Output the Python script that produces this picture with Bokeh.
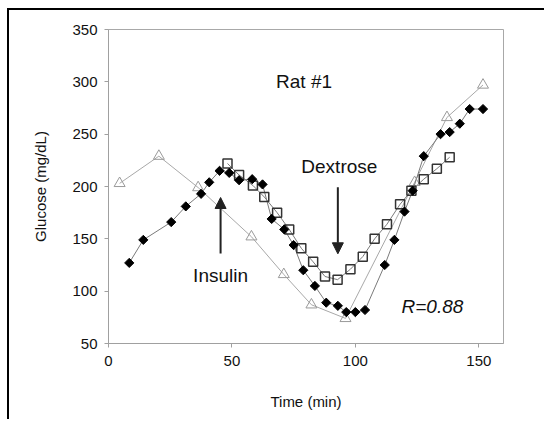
import math
from bokeh.plotting import figure
from bokeh.models import Range1d, FixedTicker, Arrow, NormalHead, Label
from bokeh.embed import file_html
from bokeh.resources import INLINE

# ---- data ----
diamond_time = [8.4, 14.1, 25.4, 31.3, 37.5, 40.8, 45.0, 48.9, 52.9, 58.2, 62.4, 66.1, 71.2, 75.0, 78.9,
                83.6, 88.2, 92.9, 96.3, 100.0, 103.9, 111.9, 115.8, 119.9, 123.2, 127.7, 134.5, 138.2,
                142.3, 146.3, 151.7]
diamond_glucose = [127, 149, 166, 181, 193, 204, 215, 213, 206, 207, 202, 169, 159, 144, 120,
                   105, 89, 86, 80, 80, 82, 125, 149, 176, 196, 229, 250, 252, 260, 274, 274]

square_time = [48.2, 52.9, 58.5, 63.1, 68.3, 73.2, 78.1, 82.9, 87.7, 92.8, 98.0, 103.0, 107.8,
               112.8, 118.1, 122.7, 127.7, 133.0, 138.2]
square_glucose = [222, 211, 201, 190, 175, 159, 141, 128, 114, 111, 121, 133, 150, 164, 183, 196,
                  207, 217, 228]

triangle_time = [4.5, 20.4, 36.3, 57.9, 71.0, 82.2, 96.0, 124.0, 137.1, 151.7]
triangle_glucose = [203, 229, 199, 152, 116, 87, 74, 204, 266, 297]

x_ticks = [0, 50, 100, 150]
y_ticks = [50, 100, 150, 200, 250, 300, 350]

FONT = "Liberation Sans"

# the figure sits 7/8 px in from the page corner, with a black left/top edge
W, H = 537, 411
p = figure(width=W, height=H, output_backend="svg", toolbar_location=None,
           x_range=Range1d(0, 160), y_range=Range1d(50, 350),
           min_border_left=99, min_border_right=43, min_border_top=19, min_border_bottom=78)
p.styles = {"margin-left": "7px", "margin-top": "8px",
            "border-left": "2px solid #000", "border-top": "2px solid #000"}
p.background_fill_color = "white"
p.border_fill_color = "white"
p.outline_line_color = "#a8a8a8"
p.outline_line_width = 1
p.xgrid.visible = False
p.ygrid.visible = False

for ax in (p.xaxis[0], p.yaxis[0]):
    ax.axis_line_color = "#a0a0a0"
    ax.major_tick_line_color = "#a0a0a0"
    ax.minor_tick_line_color = None
    ax.major_tick_in = 0
    ax.major_tick_out = 4
    ax.major_label_text_font = FONT
    ax.major_label_text_font_size = "15px"
    ax.major_label_text_color = "#111111"
    ax.axis_label_text_font = FONT
    ax.axis_label_text_font_size = "15px"
    ax.axis_label_text_font_style = "normal"
    ax.axis_label_text_color = "#111111"

p.xaxis.ticker = FixedTicker(ticks=x_ticks)
p.yaxis.ticker = FixedTicker(ticks=y_ticks)
p.xaxis.axis_label = "Time (min)"
p.yaxis.axis_label = "Glucose (mg/dL)"
p.xaxis.major_label_standoff = 8
p.yaxis.major_label_standoff = 7
p.xaxis.axis_label_standoff = 24
p.yaxis.axis_label_standoff = 20

# lines
p.line(triangle_time, triangle_glucose, line_color="#a8a8a8", line_width=1)
p.line(square_time, square_glucose, line_color="#7a7a7a", line_width=1)
p.line(diamond_time, diamond_glucose, line_color="#7a7a7a", line_width=1)

# markers
p.scatter(triangle_time, triangle_glucose, marker="triangle", size=11,
          fill_alpha=0, line_color="#9a9a9a", line_width=1)
p.scatter(square_time, square_glucose, marker="square", size=9,
          fill_alpha=0, line_color="#333333", line_width=1.5)
p.scatter(diamond_time, diamond_glucose, marker="square", angle=math.pi / 4, size=6.5,
          fill_color="black", line_color="black", line_width=1)

# annotations
p.add_layout(Label(x=79.2, y=300, text="Rat #1", text_align="center", text_baseline="middle",
                   text_font=FONT, text_font_size="19px", text_color="#111111"))
p.add_layout(Label(x=93.5, y=219.5, text="Dextrose", text_align="center", text_baseline="middle",
                   text_font=FONT, text_font_size="19px", text_color="#111111"))
p.add_layout(Label(x=45.4, y=114.5, text="Insulin", text_align="center", text_baseline="middle",
                   text_font=FONT, text_font_size="19px", text_color="#111111"))
p.add_layout(Label(x=131.2, y=85.8, text="R=0.88", text_align="center", text_baseline="middle",
                   text_font=FONT, text_font_size="19px", text_font_style="italic", text_color="#111111"))

p.add_layout(Arrow(end=NormalHead(size=11, fill_color="#222222", line_color="#222222"),
                   x_start=45.4, y_start=136, x_end=45.4, y_end=189.5,
                   line_color="#222222", line_width=2))
p.add_layout(Arrow(end=NormalHead(size=11, fill_color="#222222", line_color="#222222"),
                   x_start=92.9, y_start=199.3, x_end=92.9, y_end=135.7,
                   line_color="#222222", line_width=2))

open("out.html", "w").write(file_html(p, INLINE))
